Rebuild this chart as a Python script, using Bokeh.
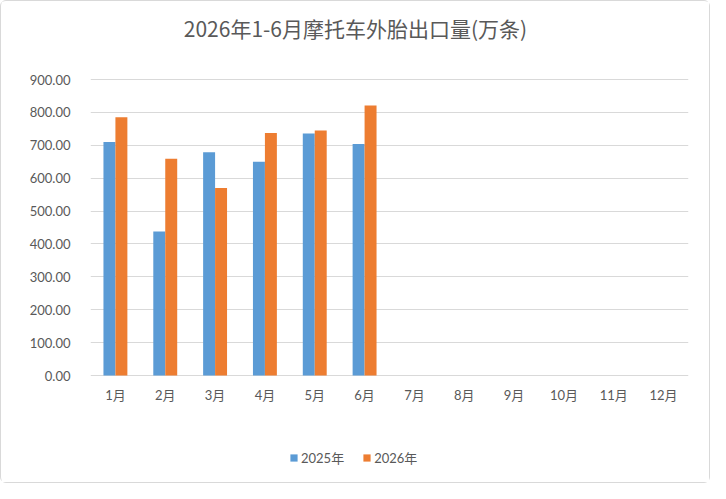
from bokeh.plotting import figure
from bokeh.models import (ColumnDataSource, FactorRange, Range1d, FixedTicker, NumeralTickFormatter,
                          Legend, LegendItem, Label)
from bokeh.transform import dodge
from bokeh.core.properties import value
from bokeh.embed import file_html
from bokeh.resources import INLINE

months = ["1月", "2月", "3月", "4月", "5月", "6月", "7月", "8月", "9月", "10月", "11月", "12月"]
y2025 = [710, 438, 679, 650, 736, 704, None, None, None, None, None, None]
y2026 = [785, 659, 570, 737, 745, 821, None, None, None, None, None, None]
series_names = ["2025年", "2026年"]
y_ticks = [0, 100, 200, 300, 400, 500, 600, 700, 800, 900]
title_text = "2026年1-6月摩托车外胎出口量(万条)"

FONT = "Lato, 'Noto Sans CJK SC', sans-serif"
GRAY = "#595959"

src = ColumnDataSource(dict(
    m=months,
    a=[float("nan") if v is None else v for v in y2025],
    b=[float("nan") if v is None else v for v in y2026],
))

# frame spans the full height; value axis 0..900 sits in the middle of it
p = figure(width=710, height=483, x_range=FactorRange(*months), y_range=Range1d(-331.4, 1137.2),
           output_backend="svg", toolbar_location=None, x_axis_location=None, title=None,
           min_border_left=89, min_border_right=23, min_border_top=0, min_border_bottom=0)

r1 = p.vbar(x=dodge("m", -0.12, range=p.x_range), top="a", width=0.24, source=src,
            fill_color="#5b9bd5", line_color=None)
r2 = p.vbar(x=dodge("m", 0.12, range=p.x_range), top="b", width=0.24, source=src,
            fill_color="#ed7d31", line_color=None)

# category labels under the baseline
p.text(x="m", y=0, text="m", source=src, text_align="center", text_baseline="top",
       y_offset=11, text_font=value(FONT), text_font_size="13px", text_color=GRAY)

p.outline_line_color = None
p.xgrid.grid_line_color = None
p.ygrid.grid_line_color = "#d9d9d9"
p.ygrid.ticker = FixedTicker(ticks=y_ticks)

p.yaxis.ticker = FixedTicker(ticks=y_ticks)
p.yaxis.formatter = NumeralTickFormatter(format="0.00")
p.yaxis.axis_line_color = None
p.yaxis.major_tick_line_color = None
p.yaxis.minor_tick_line_color = None
p.yaxis.major_tick_out = 0
p.yaxis.major_label_standoff = 20
p.yaxis.major_label_text_font = FONT
p.yaxis.major_label_text_font_size = "13px"
p.yaxis.major_label_text_color = GRAY

title = Label(x=265, y=457, x_units="screen", y_units="screen", text=title_text,
              text_align="center", text_baseline="middle",
              text_font="'Noto Sans CJK SC', sans-serif", text_font_size="21px", text_color=GRAY)
p.add_layout(title)

legend = Legend(items=[LegendItem(label=series_names[0], renderers=[r1]),
                       LegendItem(label=series_names[1], renderers=[r2])],
                orientation="horizontal", location=(199, 17),
                label_text_font=FONT, label_text_font_size="13px", label_text_color=GRAY,
                glyph_width=9, glyph_height=9, spacing=18, label_standoff=3,
                border_line_color=None, background_fill_alpha=0, margin=0, padding=0)
p.add_layout(legend, "center")

p.styles = {"border": "1px solid #d9d9d9", "border-radius": "6px"}

open("out.html", "w").write(file_html(p, INLINE))
